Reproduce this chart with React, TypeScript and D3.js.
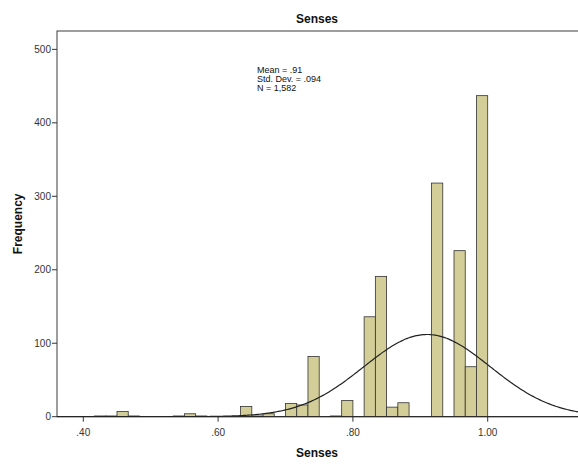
import React from "react";
import * as d3 from "d3";

// Histogram bins (lower edge, width 1/60) and their frequencies
const binWidth = 1 / 60;
const binStarts = [
  0.4167, 0.4333, 0.45, 0.4667, 0.5333, 0.55, 0.5667, 0.6333, 0.65, 0.6667,
  0.7, 0.7167, 0.7333, 0.7667, 0.7833, 0.8167, 0.8333, 0.85, 0.8667, 0.9167,
  0.95, 0.9667, 0.9833,
];
const counts = [
  1, 1, 7, 1, 1, 4, 1, 14, 1, 4,
  18, 16, 82, 1, 22, 136, 191, 13, 19, 318,
  226, 68, 437,
];

const xTicks = [0.4, 0.6, 0.8, 1.0];
const xTickLabels = [".40", ".60", ".80", "1.00"];
const yTicks = [0, 100, 200, 300, 400, 500];

const mean = 0.91;
const sd = 0.094;
const n = 1582;
const statLines = ["Mean = .91", "Std. Dev. = .094", "N = 1,582"];

const W = 578;
const H = 464;
const left = 57;
const top = 31;
const bottom = 416.7;
const right = 580;

const font = "'Liberation Sans', Arial, sans-serif";

export default function App() {
  const x = d3.scaleLinear().domain([0.4, 1.0]).range([83.3, 487.7]);
  const y = d3.scaleLinear().domain([0, 525]).range([bottom, top]);

  const bins = binStarts.map((s, i) => {
    const lo = 1 - Math.round((1 - s) * 60) / 60;
    return { x0: lo, x1: lo + binWidth, count: counts[i] };
  });

  const scale = (n * binWidth) / (sd * Math.sqrt(2 * Math.PI));
  const v0 = x.invert(left);
  const v1 = x.invert(W + 2);
  const curvePts = d3.range(0, 301).map((i) => {
    const v = v0 + ((v1 - v0) * i) / 300;
    const z = (v - mean) / sd;
    return [v, scale * Math.exp(-0.5 * z * z)] as [number, number];
  });
  const line = d3
    .line<[number, number]>()
    .x((d) => x(d[0]))
    .y((d) => y(d[1]))
    .curve(d3.curveBasis);

  return (
    <svg
      width={W}
      height={H}
      style={{ position: "absolute", left: 0, top: 0, background: "#fff" }}
    >
      <defs>
        <clipPath id="plotClip">
          <rect x={left} y={top} width={right - left} height={bottom - top} />
        </clipPath>
      </defs>
      <rect x={0} y={0} width={W} height={H} fill="#fff" />

      {/* frame */}
      <rect
        x={left}
        y={top}
        width={right - left}
        height={bottom - top}
        fill="none"
        stroke="#3c3c3c"
        strokeWidth={1}
      />

      {/* bars */}
      <g clipPath="url(#plotClip)">
        {bins.map((b, i) => (
          <rect
            key={i}
            x={x(b.x0)}
            y={y(b.count)}
            width={x(b.x1) - x(b.x0)}
            height={bottom - y(b.count)}
            fill="#d3ce97"
            stroke="#333"
            strokeWidth={0.8}
          />
        ))}
        <path
          d={line(curvePts) || ""}
          fill="none"
          stroke="#222"
          strokeWidth={1.2}
        />
      </g>

      {/* y axis */}
      {yTicks.map((t) => (
        <g key={t}>
          <line x1={left - 5} x2={left} y1={y(t)} y2={y(t)} stroke="#333" />
          <text
            x={left - 6}
            y={y(t)}
            dy="0.35em"
            textAnchor="end"
            fontFamily={font}
            fontSize={10}
            fill="#333"
          >
            {t}
          </text>
        </g>
      ))}

      {/* x axis */}
      <line x1={left} x2={W} y1={bottom} y2={bottom} stroke="#222" />
      {xTicks.map((t, i) => (
        <g key={t}>
          <line x1={x(t)} x2={x(t)} y1={bottom} y2={bottom + 5} stroke="#333" />
          <text
            x={x(t)}
            y={bottom + 19}
            textAnchor="middle"
            fontFamily={font}
            fontSize={10}
            fill="#333"
          >
            {xTickLabels[i]}
          </text>
        </g>
      ))}

      {/* titles */}
      <text
        x={317}
        y={23}
        textAnchor="middle"
        fontFamily={font}
        fontSize={12}
        fontWeight="bold"
        fill="#111"
      >
        Senses
      </text>
      <text
        x={317}
        y={457}
        textAnchor="middle"
        fontFamily={font}
        fontSize={12}
        fontWeight="bold"
        fill="#111"
      >
        Senses
      </text>
      <text
        transform={`translate(22, ${(top + bottom) / 2}) rotate(-90)`}
        textAnchor="middle"
        fontFamily={font}
        fontSize={12}
        fontWeight="bold"
        fill="#111"
      >
        Frequency
      </text>

      {/* summary statistics */}
      {statLines.map((s, i) => (
        <text
          key={s}
          x={257}
          y={73 + i * 8.8}
          fontFamily={font}
          fontSize={9}
          fill="#111"
        >
          {s}
        </text>
      ))}
    </svg>
  );
}
